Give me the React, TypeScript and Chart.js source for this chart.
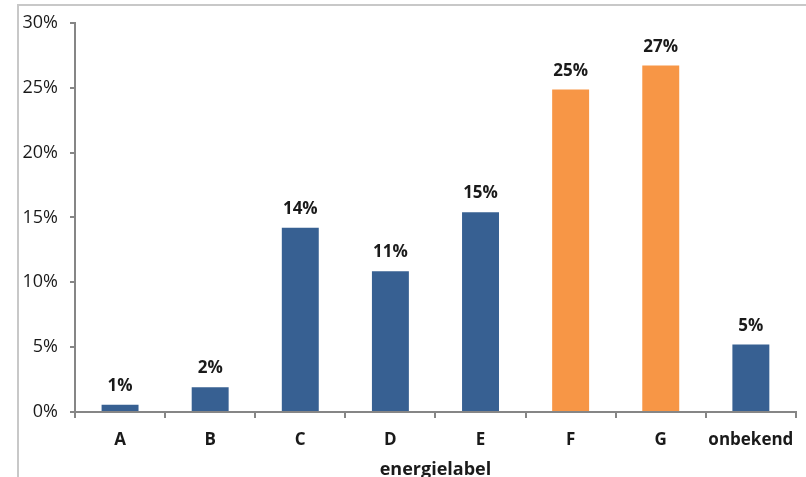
import React, { useEffect, useRef } from "react";
import { Chart, registerables } from "chart.js";

Chart.register(...registerables);

const categories = ["A", "B", "C", "D", "E", "F", "G", "onbekend"];
const shares = [0.55, 1.9, 14.2, 10.85, 15.4, 24.85, 26.7, 5.2];
const barColors = ["#376092", "#376092", "#376092", "#376092", "#376092", "#F79646", "#F79646", "#376092"];
const yTicks = [0, 5, 10, 15, 20, 25, 30];
const axisTitle = "energielabel";

const FONT = "'Open Sans', 'Noto Sans', sans-serif";

const framePlugin = {
  id: "frame",
  beforeDraw(chart: any) {
    const ctx = chart.ctx;
    ctx.save();
    ctx.fillStyle = "#ffffff";
    ctx.fillRect(0, 0, chart.width, chart.height);
    ctx.strokeStyle = "#c8c8c8";
    ctx.lineWidth = 2;
    ctx.beginPath();
    ctx.moveTo(18, chart.height);
    ctx.lineTo(18, 5);
    ctx.lineTo(chart.width, 5);
    ctx.stroke();
    ctx.restore();
  },
};

const labelPlugin = {
  id: "barLabels",
  afterDatasetsDraw(chart: any) {
    const ctx = chart.ctx;
    const meta = chart.getDatasetMeta(0);
    ctx.save();
    ctx.font = `bold 17px ${FONT}`;
    ctx.fillStyle = "#1a1a1a";
    ctx.textAlign = "center";
    ctx.textBaseline = "alphabetic";
    meta.data.forEach((bar: any, i: number) => {
      const v = chart.data.datasets[0].data[i] as number;
      ctx.fillText(Math.round(v) + "%", bar.x, bar.y - 14);
    });
    ctx.restore();
  },
};

export default function App() {
  const ref = useRef<HTMLCanvasElement>(null);
  useEffect(() => {
    if (!ref.current) return;
    const chart = new Chart(ref.current, {
      type: "bar",
      data: {
        labels: categories,
        datasets: [
          {
            data: shares,
            backgroundColor: barColors,
            categoryPercentage: 1,
            barPercentage: 0.41,
          },
        ],
      },
      options: {
        animation: false,
        responsive: false,
        devicePixelRatio: 1,
        layout: { padding: { left: 0, right: 10, top: 22, bottom: 0 } },
        plugins: { legend: { display: false }, tooltip: { enabled: false } },
        scales: {
          x: {
            grid: { drawOnChartArea: false, tickLength: 6, color: "#868686", lineWidth: 2 },
            border: { color: "#868686", width: 2 },
            ticks: { font: { family: FONT, size: 17, weight: "bold" }, color: "#1a1a1a", padding: 12, maxRotation: 0, autoSkip: false },
            title: {
              display: true,
              text: axisTitle,
              font: { family: FONT, size: 18, weight: "bold", lineHeight: 1 },
              color: "#1a1a1a",
              padding: { top: 0, bottom: -2 },
            },
            afterFit(scale: any) {
              scale.height = 65;
            },
          },
          y: {
            min: 0,
            max: 30,
            afterBuildTicks(scale: any) {
              scale.ticks = yTicks.map((v) => ({ value: v }));
            },
            grid: { drawOnChartArea: false, tickLength: 5, color: "#868686", lineWidth: 2 },
            border: { color: "#868686", width: 2 },
            ticks: {
              font: { family: FONT, size: 18 },
              color: "#1a1a1a",
              padding: 12,
              callback: (v: any) => v + "%",
            },
            afterFit(scale: any) {
              scale.width = 75;
            },
          },
        },
      },
      plugins: [framePlugin, labelPlugin],
    });
    return () => chart.destroy();
  }, []);
  return (
    <div style={{ position: "fixed", left: 0, top: 0, width: 806, height: 477, background: "#fff" }}>
      <canvas ref={ref} width={806} height={477} style={{ width: 806, height: 477, display: "block" }} />
    </div>
  );
}
